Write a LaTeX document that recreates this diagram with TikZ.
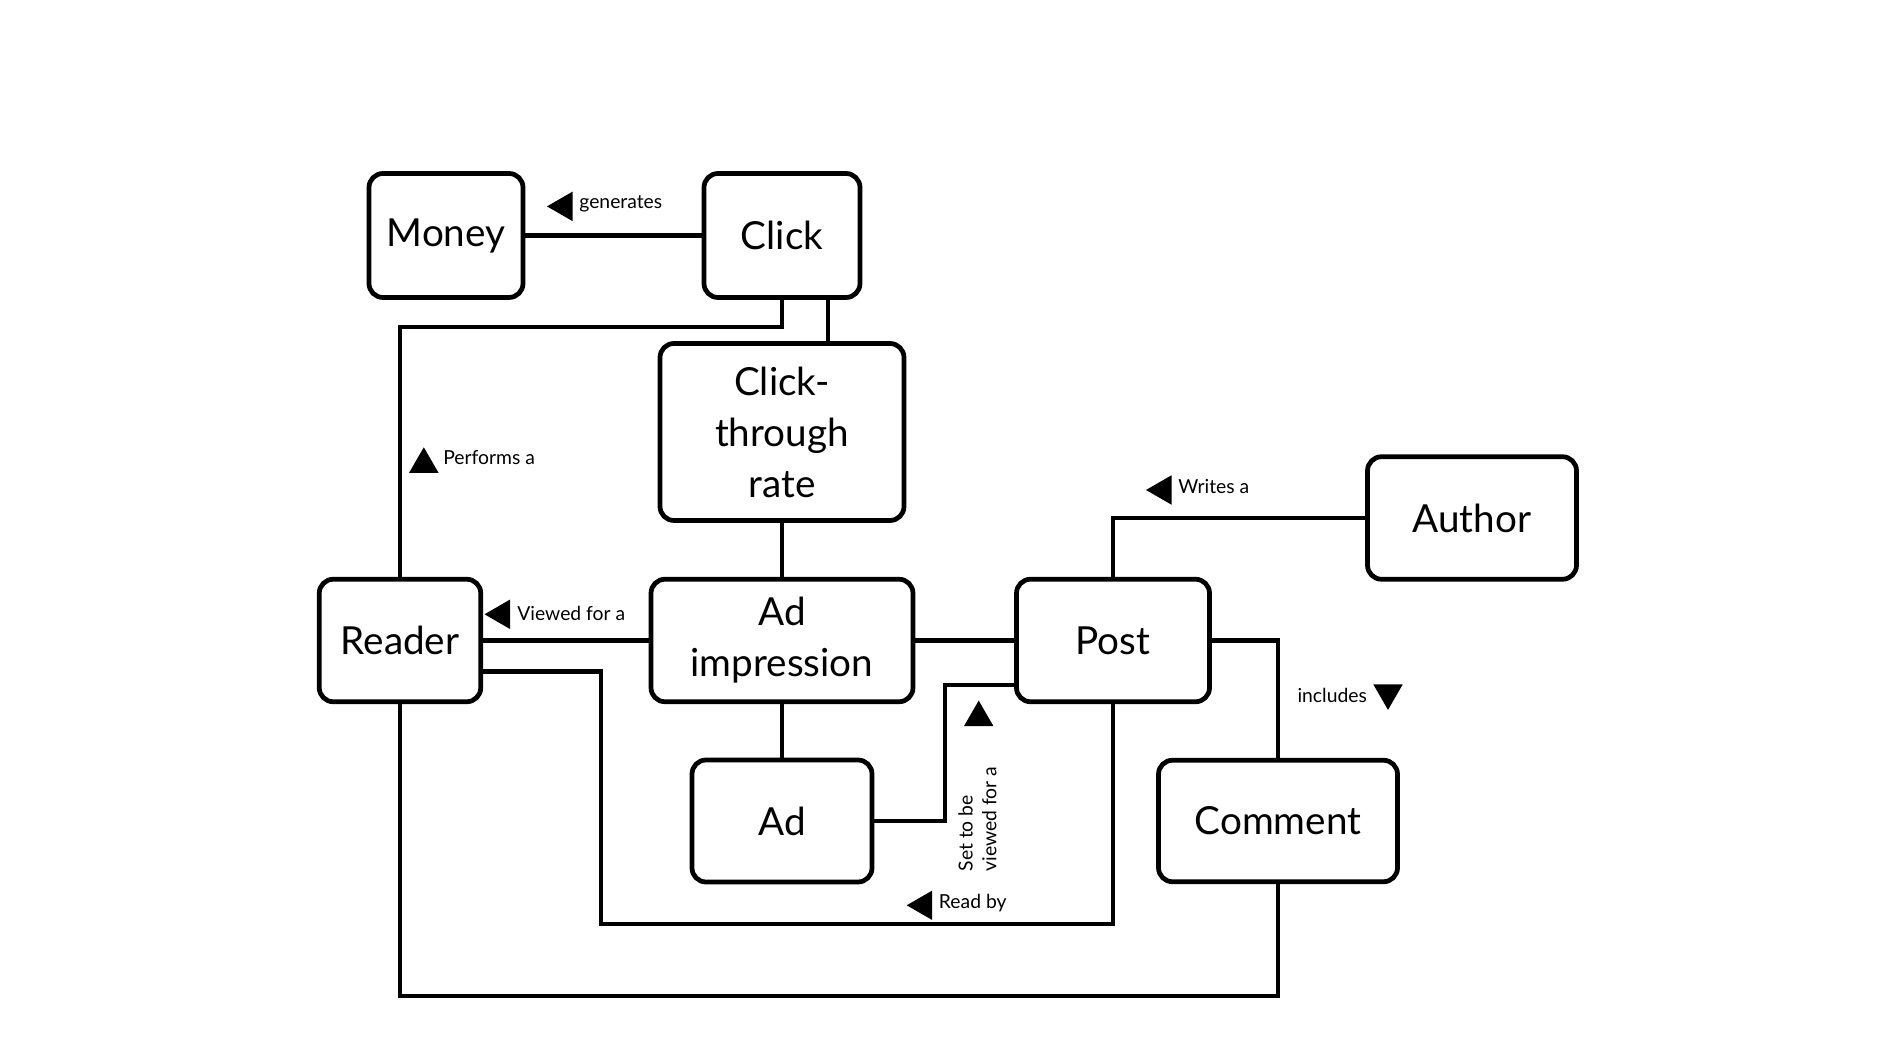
\documentclass[tikz,border=0pt]{standalone}
\usepackage{fontspec}
\setmainfont{Lato}
\usetikzlibrary{shapes.geometric}

\begin{document}
\begin{tikzpicture}[scale=2,
    entity/.style={draw,line width=2.7pt,rounded corners=0.28cm,align=center,inner sep=0pt,
      font=\fontsize{22}{29}\selectfont},
    link/.style={line width=2.3pt},
    tag/.style={inner sep=0pt,font=\fontsize{11}{13.5}\selectfont},
    tri/.style={regular polygon,regular polygon sides=3,fill=black,inner sep=0pt,
      minimum size=0.68cm}]
    \useasboundingbox (0,0) rectangle (19.04,10.61);

    % entities
    \node[entity,minimum width=3.08cm,minimum height=2.48cm] (money) at (4.46,8.255) {Money};
    \node[entity,minimum width=3.12cm,minimum height=2.48cm] (click) at (7.82,8.255) {Click};
    \node[entity,minimum width=4.88cm,minimum height=3.54cm] (ctr) at (7.82,6.29) {Click-\\through\\rate};
    \node[entity,minimum width=3.23cm,minimum height=2.45cm] (reader) at (4.00,4.205) {Reader};
    \node[entity,minimum width=5.24cm,minimum height=2.45cm] (adimp) at (7.82,4.205) {Ad\\impression};
    \node[entity,minimum width=3.86cm,minimum height=2.45cm] (post) at (11.13,4.205) {Post};
    \node[entity,minimum width=4.18cm,minimum height=2.45cm] (author) at (14.72,5.43) {Author};
    \node[entity,minimum width=4.78cm,minimum height=2.43cm] (comment) at (12.78,2.40) {Comment};
    \node[entity,minimum width=3.60cm,minimum height=2.44cm] (ad) at (7.82,2.40) {Ad};

    % bends
    \coordinate (clickbend) at (0,7.344);
    \coordinate (ctrtap) at (8.28,0);
    \coordinate (adbend) at (9.447,3.761);
    \coordinate (readbend) at (6.01,3.895);
    \coordinate (readfoot) at (6.01,1.37);
    \coordinate (bottom) at (0,0.653);

    % relations
    \draw[link] (money.east) -- (click.west);
    \draw[link] (click.south) -- (click.south |- clickbend) -| (reader.north);
    \draw[link] (click.south -| ctrtap) -- (ctr.north -| ctrtap);
    \draw[link] (ctr.south) -- (adimp.north);
    \draw[link] (reader.east) -- (adimp.west);
    \draw[link] (adimp.east) -- (post.west);
    \draw[link] (adimp.south) -- (ad.north);
    \draw[link] (author.west) -| (post.north);
    \draw[link] (post.east) -| (comment.north);
    \draw[link] (ad.east) -| (adbend) -- (adbend -| post.west);
    \draw[link] (reader.east |- readbend) -- (readbend) -- (readfoot) -| (post.south);
    \draw[link] (reader.south) -- (reader.south |- bottom) -| (comment.south);

    % labels
    \node[tri,shape border rotate=90] (gentri) at (5.64,8.546) {};
    \node[tag,anchor=west] (gentag) at (5.79,8.57) {generates};
    \node[tri] (perftri) at (4.238,5.967) {};
    \node[tag,anchor=west] (perftag) at (4.43,6.032) {Performs a};
    \node[tri,shape border rotate=90] (viewtri) at (5.015,4.467) {};
    \node[tag,anchor=west] (viewtag) at (5.17,4.48) {Viewed for a};
    \node[tri,shape border rotate=90] (writetri) at (11.63,5.71) {};
    \node[tag,anchor=west] (writetag) at (11.78,5.74) {Writes a};
    \node[tri,shape border rotate=180] (incltri) at (13.88,3.681) {};
    \node[tag,anchor=east] (incltag) at (13.673,3.652) {includes};
    \node[tri] (settri) at (9.787,3.434) {};
    \node[tag,rotate=90,align=left] (settag) at (9.775,2.42) {Set to be\\viewed for a};
    \node[tri,shape border rotate=90] (readtri) at (9.237,1.557) {};
    \node[tag,anchor=west] (readtag) at (9.386,1.576) {Read by};
\end{tikzpicture}
\end{document}
